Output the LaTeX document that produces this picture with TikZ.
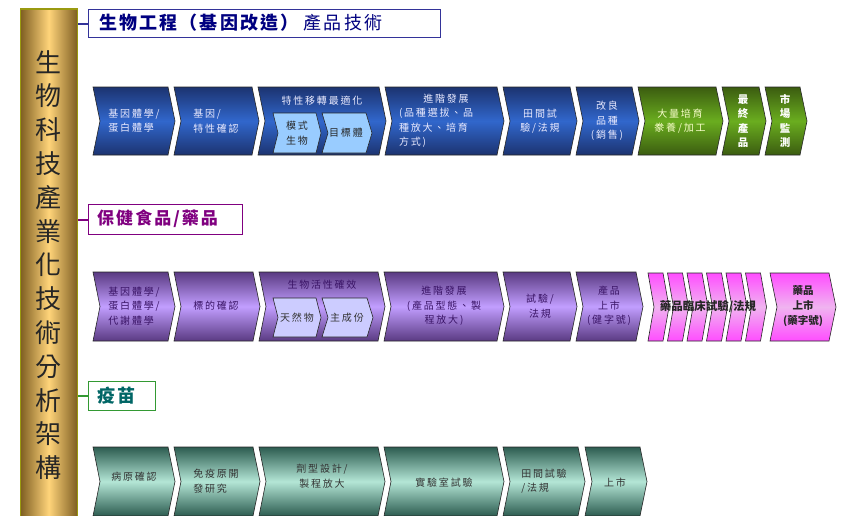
\documentclass[tikz,border=0pt]{standalone}
\usepackage{fontspec}
\setmainfont{Noto Sans CJK TC}
\newfontfamily\cjkw[LetterSpace=18]{Noto Sans CJK TC}
\newfontfamily\cjkt[LetterSpace=12]{Noto Sans CJK TC}
\definecolor{bTop}{HTML}{1C3370}
\definecolor{bMid}{HTML}{3167CC}
\definecolor{gTop}{HTML}{3B5C10}
\definecolor{gMid}{HTML}{6AAD1F}
\definecolor{pTop}{HTML}{5A3A82}
\definecolor{pMid}{HTML}{C29EFF}
\definecolor{kTop}{HTML}{FF4DFF}
\definecolor{kMid}{HTML}{F0B4F0}
\definecolor{tTop}{HTML}{2C5C50}
\definecolor{tMid}{HTML}{B4E6D6}
\definecolor{navy}{HTML}{333399}
\definecolor{navyT}{HTML}{000080}
\definecolor{purp}{HTML}{800080}
\definecolor{grn}{HTML}{339933}
\definecolor{tealT}{HTML}{006666}
\definecolor{goldD}{HTML}{7E5E22}
\definecolor{goldL}{HTML}{FFD47A}
\definecolor{olive}{HTML}{9A9A10}
\definecolor{inBlue}{HTML}{99CCFF}
\definecolor{inLav}{HTML}{CCCCFF}
\definecolor{purpTxt}{HTML}{3A1466}
\newcommand{\chev}[6][7]{\path[#2] (#3,#5) -- (#4,#5) -- ({#4+#1},{(#5+#6)/2}) -- (#4,#6) -- (#3,#6) -- ({#3+#1},{(#5+#6)/2}) -- cycle;}
\tikzset{
  edge/.style={draw=black!85, line width=0.6pt},
  blueC/.style={edge, top color=bTop, bottom color=bTop, middle color=bMid},
  greenC/.style={edge, top color=gTop, bottom color=gTop, middle color=gMid},
  purpC/.style={edge, top color=pTop, bottom color=pTop, middle color=pMid},
  pinkC/.style={edge, top color=kTop, bottom color=kTop, middle color=kMid},
  tealC/.style={edge, top color=tTop, bottom color=tTop, middle color=tMid},
  inB/.style={edge, fill=inBlue},
  inP/.style={edge, fill=inLav},
  lbl/.style={font=\cjkw\fontsize{10}{14.5}\selectfont, inner sep=0pt, align=center},
  lblB/.style={lbl, text=blue!8},
  lblG/.style={lbl, text=green!10!yellow!20},
  lblP/.style={lbl, text=purpTxt},
  lblT/.style={lbl, text=black!80},
}
\begin{document}
\begin{tikzpicture}[x=1pt,y=-1pt]
\useasboundingbox (0,0) rectangle (843,515);
\fill[white] (0,0) rectangle (843,515);
% left bar
\node[draw=olive, line width=1.6pt, left color=goldD, right color=goldD, middle color=goldL, minimum width=57, minimum height=520, anchor=north west, inner sep=0pt] (bar) at (19.5,8) {};
\node[font=\fontsize{26}{33.8}\selectfont, text=black!85, align=center, inner sep=0pt] (bartxt) at (48,265) {生\\物\\科\\技\\產\\業\\化\\技\\術\\分\\析\\架\\構};
% section titles
\node[draw=navy, line width=1.4pt, fill=white, minimum width=352, minimum height=28, anchor=north west, inner sep=0pt] (t1) at (88,9) {};
\node[anchor=west, text=navyT, font=\cjkt\fontsize{18}{20}\selectfont, inner sep=0pt] (t1txt) at (99,23) {\textbf{生物工程（基因改造）}\,產品技術};
\draw[navy, line width=1.6pt] (bar.east |- t1.west) -- (t1.west);
\node[draw=purp, line width=1.4pt, fill=white, minimum width=154, minimum height=30, anchor=north west, inner sep=0pt] (t2) at (88,204) {};
\node[anchor=west, text=purp, font=\cjkt\fontsize{17}{20}\selectfont\bfseries, inner sep=0pt] (t2txt) at (97,219) {保健食品/藥品};
\draw[purp, line width=1.6pt] (bar.east |- t2.west) -- (t2.west);
\node[draw=grn, line width=1.4pt, fill=white, minimum width=67, minimum height=29, anchor=north west, inner sep=0pt] (t3) at (88,381) {};
\node[anchor=west, text=tealT, font=\cjkt\fontsize{18}{20}\selectfont\bfseries, inner sep=0pt] (t3txt) at (97,395.5) {疫苗};
\draw[grn, line width=1.6pt] (bar.east |- t3.west) -- (t3.west);
% ---------- row 1 ----------
\chev{blueC}{93}{168}{87}{155}
\chev{blueC}{174}{252}{87}{155}
\chev{blueC}{258}{379}{87}{155}
\chev[5]{inB}{273}{316}{113}{153}
\chev[6]{inB}{322}{366}{113}{153}
\chev{blueC}{385}{497}{87}{155}
\chev{blueC}{503}{570}{87}{155}
\chev{blueC}{576}{632}{87}{155}
\chev{greenC}{638}{716}{87}{155}
\chev{greenC}{722}{759}{87}{155}
\chev{greenC}{765}{800}{87}{155}
\node[lblB, align=left] (a1) at (134,121) {基因體學/\\蛋白體學};
\node[lblB, align=left] (a2) at (216,121) {基因/\\特性確認};
\node[lblB] (a3) at (322,101) {特性移轉最適化};
\node[lblT, text=black!85] (a3a) at (297,133) {模式\\生物};
\node[lblT, text=black!85] (a3b) at (346,133) {目標體};
\node[lblB, align=left, text width=94] (a4) at (446,121) {\makebox[94pt]{進階發展}\\(品種選拔、品\\種放大、培育\\方式)};
\node[lblB] (a5) at (540,121) {田間試\\驗/法規};
\node[lblB] (a6) at (607,121) {改良\\品種\\(銷售)};
\node[lblG] (a7) at (680,121) {大量培育\\豢養/加工};
\node[lbl, text=white, font=\fontsize{10.5}{14.5}\selectfont\bfseries] (a8) at (743,121) {最\\終\\產\\品};
\node[lbl, text=white, font=\fontsize{10.5}{14.5}\selectfont\bfseries] (a9) at (785,121) {市\\場\\監\\測};
% ---------- row 2 ----------
\chev{purpC}{93}{168}{272}{341}
\chev{purpC}{174}{253}{272}{341}
\chev{purpC}{259}{378}{272}{341}
\chev[5]{inP}{273}{316}{298}{337}
\chev[6]{inP}{322}{367}{298}{337}
\chev{purpC}{384}{497}{272}{341}
\chev{purpC}{503}{570}{272}{341}
\chev{purpC}{576}{636}{272}{341}
\foreach \k in {0,...,5}{\chev[6]{pinkC}{648+19.5*\k}{663+19.5*\k}{273}{341}}
\chev{pinkC}{770}{829}{273}{341}
\node[lblP, align=left] (b1) at (134,306) {基因體學/\\蛋白體學/\\代謝體學};
\node[lblP] (b2) at (216,306) {標的確認};
\node[lblP] (b3) at (322,285) {生物活性確效};
\node[lblT] (b3a) at (297,318) {天然物};
\node[lblT] (b3b) at (347,318) {主成份};
\node[lblP] (b4) at (444,306) {進階發展\\(產品型態、製\\程放大)};
\node[lblP] (b5) at (540,306) {試驗/\\法規};
\node[lblP] (b6) at (609,306) {產品\\上市\\(健字號)};
\node[lbl, text=black!85, font=\fontsize{11.5}{14.5}\selectfont\bfseries] (b7) at (708,307) {藥品臨床試驗/法規};
\node[lbl, text=black!85, font=\fontsize{10.5}{15}\selectfont\bfseries] (b8) at (803,306) {藥品\\上市\\(藥字號)};
% ---------- row 3 ----------
\chev{tealC}{93}{168}{447}{516}
\chev{tealC}{174}{253}{447}{516}
\chev{tealC}{259}{378}{447}{516}
\chev{tealC}{384}{497}{447}{516}
\chev{tealC}{503}{578}{447}{516}
\chev{tealC}{585}{640}{447}{516}
\node[lblT] (c1) at (134,477) {病原確認};
\node[lblT, align=left] (c2) at (216,481) {免疫原開\\發研究};
\node[lblT] (c3) at (322,476) {劑型設計/\\製程放大};
\node[lblT] (c4) at (444,483) {實驗室試驗};
\node[lblT, align=left] (c5) at (544,481) {田間試驗\\/法規};
\node[lblT] (c6) at (615,483) {上市};
\end{tikzpicture}
\end{document}
